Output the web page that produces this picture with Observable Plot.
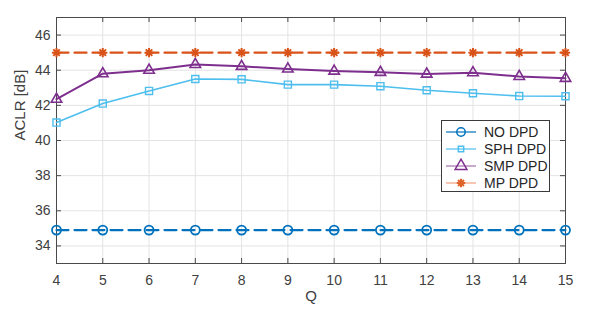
<!DOCTYPE html>
<html><head><meta charset="utf-8">
<script src="https://cdn.jsdelivr.net/npm/d3@7"></script>
<script src="https://cdn.jsdelivr.net/npm/@observablehq/plot@0.6"></script>
<style>
body{margin:0;background:#fff;font-family:"Liberation Sans",Arial,sans-serif;}
#wrap{position:relative;width:598px;height:309px;}
#legend{position:absolute;left:441px;top:120px;width:109px;height:72px;border:1px solid #3a3a3a;background:#fff;box-sizing:border-box;}
</style></head>
<body><div id="wrap"><div id="chart"></div><div id="legend"></div></div>
<script>
const Q = [4,5,6,7,8,9,10,11,12,13,14,15];
const noDPD = [34.9,34.9,34.9,34.9,34.9,34.9,34.9,34.9,34.9,34.9,34.9,34.9];
const sphDPD = [41.02,42.1,42.82,43.5,43.48,43.18,43.18,43.09,42.86,42.69,42.53,42.52];
const smpDPD = [42.35,43.8,44.0,44.33,44.22,44.07,43.95,43.88,43.78,43.86,43.64,43.54];
const mpDPD = [45.0,45.0,45.0,45.0,45.0,45.0,45.0,45.0,45.0,45.0,45.0,45.0];
const seriesNames = ["NO DPD","SPH DPD","SMP DPD","MP DPD"];
const yTicks = [34,36,38,40,42,44,46];

const asterisk = {
  draw(ctx, size) {
    const r = Math.sqrt(size / Math.PI);
    const d = r * Math.SQRT1_2;
    ctx.moveTo(-r, 0); ctx.lineTo(r, 0);
    ctx.moveTo(0, -r); ctx.lineTo(0, r);
    ctx.moveTo(-d, -d); ctx.lineTo(d, d);
    ctx.moveTo(-d, d); ctx.lineTo(d, -d);
  }
};

const styles = [
  {color:"#0072BD", dash:"12,6", width:2.2, symbol:"circle", r:4.5, sw:1.8},
  {color:"#4DBEEE", dash:null, width:1.6, symbol:"square", r:4.0, sw:1.4},
  {color:"#7E2F8E", dash:null, width:2.0, symbol:"triangle", r:3.9, sw:1.6},
  {color:"#D95319", dash:"12,6", width:2.2, symbol:asterisk, r:4.6, sw:2}
];
const allVals = [noDPD, sphDPD, smpDPD, mpDPD];
const data = allVals.map((vals, i) => Q.map((q, j) => ({q, v: vals[j], s: seriesNames[i]})));

const W = 598, H = 309, mL = 56, mR = 33, mT = 17, mB = 46;
const pw = W - mL - mR, ph = H - mT - mB;
const tickLen = 5;

const marks = [
  Plot.gridX(Q, {stroke:"#e3e3e3", strokeOpacity:1}),
  Plot.gridY(yTicks, {stroke:"#e3e3e3", strokeOpacity:1}),
  Plot.frame({stroke:"#4a4a4a", strokeWidth:1}),
  Plot.tickX(Q, {x:d=>d, insetTop: ph - tickLen, stroke:"#4a4a4a"}),
  Plot.tickX(Q, {x:d=>d, insetBottom: ph - tickLen, stroke:"#4a4a4a"}),
  Plot.tickY(yTicks, {y:d=>d, insetRight: pw - tickLen, stroke:"#4a4a4a"}),
  Plot.tickY(yTicks, {y:d=>d, insetLeft: pw - tickLen, stroke:"#4a4a4a"}),
  Plot.axisX(Q, {tickSize:0, tickPadding:12, fontSize:14, color:"#404040", label:null}),
  Plot.axisY(yTicks, {tickSize:0, tickPadding:6, fontSize:14, color:"#404040", label:null}),
  Plot.text(["Q"], {frameAnchor:"bottom", dy:37, fontSize:15, fill:"#404040"}),
  Plot.text(["ACLR [dB]"], {frameAnchor:"left", dx:-36, rotate:-90, fontSize:15, fill:"#404040"})
];
data.forEach((d, i) => {
  const st = styles[i];
  marks.push(Plot.line(d, {x:"q", y:"v", stroke:st.color, strokeWidth:st.width, strokeDasharray:st.dash || undefined}));
  marks.push(Plot.dot(d, {x:"q", y:"v", stroke:st.color, fill:"none", strokeWidth:st.sw, symbol:st.symbol, r:st.r}));
});

const chart = Plot.plot({
  width:W, height:H, marginLeft:mL, marginRight:mR, marginTop:mT, marginBottom:mB,
  style:{fontFamily:"'Liberation Sans', Arial, sans-serif", background:"#fff"},
  x:{domain:[4,15]},
  y:{domain:[33,47]},
  marks
});
document.getElementById("chart").appendChild(chart);

// legend
const leg = d3.select("#legend");
const svgL = leg.append("svg").attr("width",107).attr("height",70).style("display","block");
const symTypes = [d3.symbolCircle, d3.symbolSquare, d3.symbolTriangle, asterisk];
const legendSizes = [4.2, 3.0, 4.4, 4.2];
seriesNames.forEach((name, i) => {
  const y = 11 + i * 17;
  const g = svgL.append("g");
  const c = styles[i].color;
  g.append("line").attr("x1",4).attr("x2",34).attr("y1",y).attr("y2",y).attr("stroke", i===3 ? "#F2A07C" : (i===2 ? "#A070AA" : c)).attr("stroke-width",1.2);
  const r = legendSizes[i];
  g.append("path").attr("transform",`translate(19,${y})`).attr("d", d3.symbol(symTypes[i], Math.PI*r*r)()).attr("fill","none").attr("stroke", i===3 ? "#E0632A" : c).attr("stroke-width", i===3 ? 2 : 1.5);
  g.append("text").attr("x",42).attr("y",y+5).text(name).attr("font-size",14).attr("fill","#262626").attr("font-family","'Liberation Sans', Arial, sans-serif");
});
</script></body></html>
